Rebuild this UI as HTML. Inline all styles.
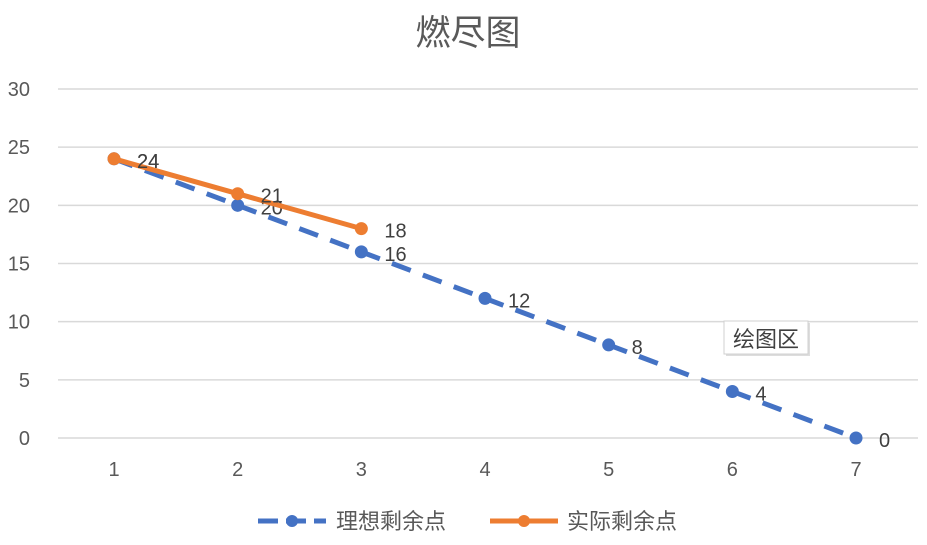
<!DOCTYPE html>
<html><head><meta charset="utf-8"><style>
body{margin:0;background:#fff}
svg{display:block;font-family:"Liberation Sans","Noto Sans CJK SC",sans-serif}
</style></head><body>
<svg id="chart" width="927" height="545">
<text x="468" y="45" text-anchor="middle" font-size="35" fill="#595959">燃尽图</text>
<g id="grid"></g><g id="yt"></g><g id="xt"></g><g id="series"></g>
<g>
<line x1="258" y1="521" x2="326" y2="521" stroke="#4472C4" stroke-width="5" stroke-dasharray="20,8"/>
<circle cx="292" cy="521" r="6" fill="#4472C4"/>
<text x="336" y="529" font-size="22" fill="#595959">理想剩余点</text>
<line x1="490" y1="521" x2="558" y2="521" stroke="#ED7D31" stroke-width="5"/>
<circle cx="524" cy="521" r="6" fill="#ED7D31"/>
<text x="567" y="529" font-size="22" fill="#595959">实际剩余点</text>
</g>
<g>
<rect x="726" y="323" width="84" height="33" fill="#bbb" opacity="0.5"/>
<rect x="724" y="321" width="84" height="33" fill="#fff" stroke="#d0d0d0"/>
<text x="766" y="347" text-anchor="middle" font-size="22" fill="#404040">绘图区</text>
</g>
</svg>
<script>
const categories=[1,2,3,4,5,6,7];
const idealValues=[24,20,16,12,8,4,0];
const actualValues=[24,21,18];
const yTicks=[0,5,10,15,20,25,30];
const NS="http://www.w3.org/2000/svg";
const xs=i=>114+(i)*123.67;
const ys=v=>438-v*(349/30);
function mk(tag,attrs,parent,txt){const e=document.createElementNS(NS,tag);for(const k in attrs)e.setAttribute(k,attrs[k]);if(txt!==undefined)e.textContent=txt;parent.appendChild(e);return e;}
const grid=document.getElementById('grid'),yt=document.getElementById('yt'),xt=document.getElementById('xt'),ser=document.getElementById('series');
yTicks.forEach(t=>{
 const l=mk('line',{x1:58,x2:918,y1:ys(t),y2:ys(t),stroke:'#d9d9d9','stroke-width':1.5},grid);
 
 
 const tx=mk('text',{x:30,y:ys(t)+7,'text-anchor':'end','font-size':20,fill:'#595959'},yt,String(t));
 
 
});
categories.forEach((c,i)=>{
 const tx=mk('text',{x:xs(i),y:476,'text-anchor':'middle','font-size':20,fill:'#595959'},xt,String(c));
 
 
});
function series(vals,color,dash,name){
 const pts=vals.map((v,i)=>xs(i)+','+ys(v)).join(' ');
 const pl=mk('polyline',{points:pts,fill:'none',stroke:color,'stroke-width':5,'stroke-dasharray':dash||'none','stroke-linecap':'butt'},ser);
 
 
 vals.forEach((v,i)=>{
  const c=mk('circle',{cx:xs(i),cy:ys(v),r:6.5,fill:color},ser);
  
  
  const t=mk('text',{x:xs(i)+23,y:ys(v)+9,'font-size':20,fill:'#404040'},ser,String(v));
  
  
 });
}
series(idealValues,'#4472C4','20,13','ideal');
series(actualValues,'#ED7D31',null,'actual');
</script>
</body></html>
